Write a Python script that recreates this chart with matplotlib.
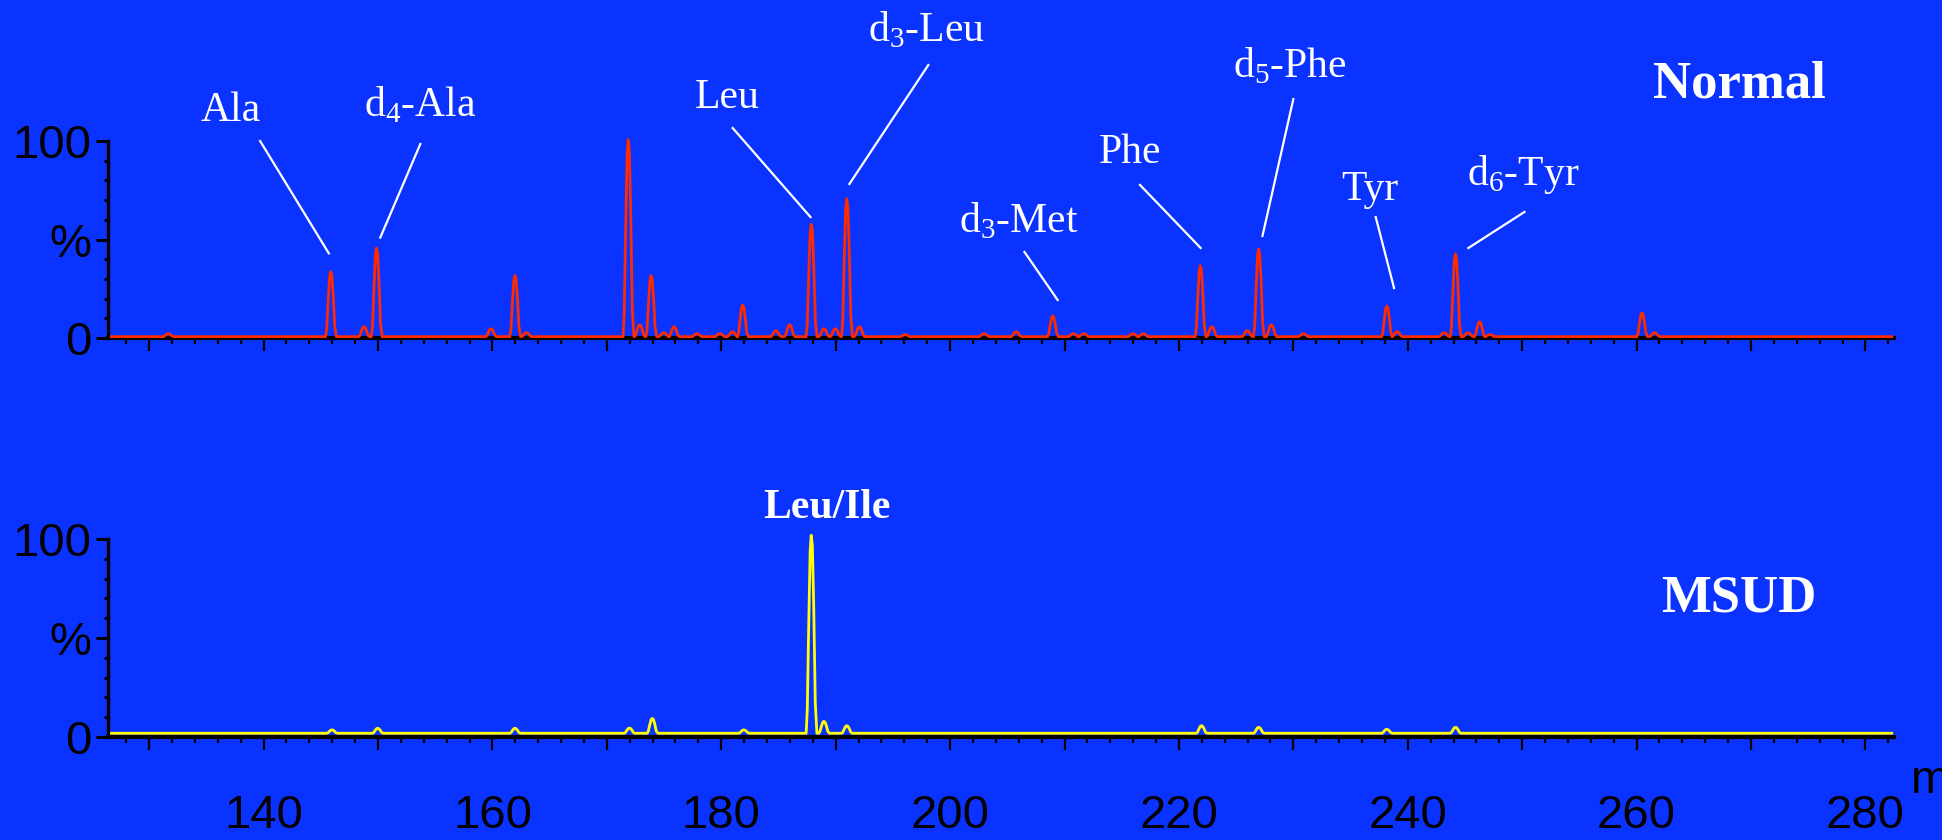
import matplotlib
matplotlib.use("Agg")
import matplotlib.pyplot as plt
from matplotlib.ticker import MultipleLocator, FuncFormatter
import numpy as np

plt.rcParams['mathtext.fontset'] = 'custom'
plt.rcParams['mathtext.rm'] = 'Liberation Serif'

BG = '#0b33ff'

# peaks: m/z and height in %
normal_mz = [131.7, 145.9, 148.8, 149.9, 159.9, 162.0, 163.0, 171.9, 172.9, 173.9,
             175.0, 175.9, 177.9, 179.9, 181.0, 181.9, 184.8, 186.0, 187.9, 189.0,
             190.0, 191.0, 192.1, 196.1, 203.0, 205.8, 209.0, 210.8, 211.7, 216.0,
             216.9, 221.9, 222.9, 226.0, 227.0, 228.1, 230.9, 238.2, 239.1, 243.2,
             244.2, 245.3, 246.3, 247.2, 260.5, 261.6]
normal_int = [1.5, 33, 5, 45, 4, 31, 2, 100, 6, 31,
              2, 5, 1.5, 1.5, 2.5, 16, 3, 6, 57, 4,
              4, 70, 5, 1, 1.5, 2.5, 10.5, 1.5, 1.5, 1.5,
              1.5, 36, 5, 3, 44.5, 6, 1.5, 15.5, 2.5, 2,
              42, 2, 7.5, 1, 12, 2]

msud_mz = [146.0, 150.0, 162.0, 172.0, 174.0, 182.0, 187.9, 189.0, 191.0,
           222.0, 227.0, 238.2, 244.2]
msud_int = [1.7, 2.5, 2.5, 2.6, 7.5, 1.7, 100, 6, 3.8,
            3.8, 3.0, 2.0, 3.0]

normal_base = 0.7
msud_base = 1.9

# peak outline (relative offsets / fraction of height)
shape_dx = np.array([-0.48, -0.38, -0.27, -0.13, -0.04, 0.06, 0.18, 0.32, 0.46])
shape_fr = np.array([0, 0.12, 0.5, 0.92, 1.0, 0.95, 0.65, 0.15, 0])


def trace(mz, inten, base, start=126.7, end=282.3):
    xs = [start]
    ys = [base]
    for c, h in zip(mz, inten):
        xs.extend(c + shape_dx)
        ys.extend(base + h * shape_fr)
    xs.append(end)
    ys.append(base)
    return np.array(xs), np.array(ys)


# labels on the normal trace: text, text pos (m/z, %), leader line start, end
labels = [
    ("Ala", 137.1, 110.0, (139.7, 100.0), (145.7, 43.0)),
    ("d$_4$-Ala", 153.7, 112.7, (153.7, 98.5), (150.2, 51.0)),
    ("Leu", 180.5, 116.8, (181.0, 106.6), (187.8, 61.4)),
    ("d$_3$-Leu", 197.9, 150.8, (198.1, 138.6), (191.2, 78.2)),
    ("d$_3$-Met", 206.0, 53.8, (206.5, 43.7), (209.4, 19.3)),
    ("Phe", 215.7, 88.8, (216.6, 77.7), (221.9, 45.7)),
    ("d$_5$-Phe", 229.7, 132.5, (230.0, 121.3), (227.3, 51.8)),
    ("Tyr", 236.7, 70.0, (237.2, 61.4), (238.8, 25.4)),
    ("d$_6$-Tyr", 250.1, 77.7, (250.2, 64.0), (245.3, 45.7)),
]

fig = plt.figure(figsize=(19.42, 8.40), dpi=100, facecolor=BG)
ax1 = fig.add_axes([0.0556, 0.5976, 0.9197, 0.2345])
ax2 = fig.add_axes([0.0556, 0.1226, 0.9197, 0.2357])


def style_axes(ax, show_labels):
    ax.set_facecolor(BG)
    ax.set_xlim(126.4, 282.5)
    ax.set_ylim(0, 100)
    for s in ['top', 'right']:
        ax.spines[s].set_visible(False)
    ax.spines['left'].set_linewidth(2.4)
    ax.spines['bottom'].set_linewidth(3.0)
    ax.spines['left'].set_color('black')
    ax.spines['bottom'].set_color('black')
    ax.yaxis.set_major_locator(MultipleLocator(50))
    ax.yaxis.set_minor_locator(MultipleLocator(10))
    ax.yaxis.set_major_formatter(FuncFormatter(
        lambda v, p: {0: '0', 50: '%', 100: '100'}.get(int(round(v)), '')))
    ax.xaxis.set_major_locator(MultipleLocator(10))
    ax.xaxis.set_minor_locator(MultipleLocator(2))
    if show_labels:
        ax.xaxis.set_major_formatter(FuncFormatter(
            lambda v, p: '%d' % v if int(round(v)) % 20 == 0 else ''))
    else:
        ax.xaxis.set_major_formatter(FuncFormatter(lambda v, p: ''))
    ax.tick_params(axis='y', which='major', length=9, width=2.2, pad=3,
                   labelsize=34, colors='black')
    ax.tick_params(axis='y', which='minor', length=3, width=2.0)
    ax.tick_params(axis='x', which='major', length=9, width=1.6, pad=32,
                   labelsize=34, colors='black')
    ax.tick_params(axis='x', which='minor', length=4.5, width=1.6)
    for t in ax.get_xticklabels() + ax.get_yticklabels():
        t.set_fontfamily('Liberation Sans')


style_axes(ax1, False)
style_axes(ax2, True)

x1, y1 = trace(normal_mz, normal_int, normal_base)
ax1.plot(x1, y1, color='#ff2a00', lw=2.0, clip_on=False, zorder=3)
x2, y2 = trace(msud_mz, msud_int, msud_base)
ax2.plot(x2, y2, color='#ffff00', lw=2.0, clip_on=False, zorder=3)

for txt, tx, ty, p0, p1 in labels:
    ax1.text(tx, ty, txt, ha='center', va='baseline', color='white',
             fontsize=30, family='Liberation Serif', clip_on=False)
    ax1.plot([p0[0], p1[0]], [p0[1], p1[1]], color='white', lw=1.6,
             clip_on=False)

ax1.text(269.0, 122.3, "Normal", ha='center', va='baseline', color='white',
         fontsize=38, fontweight='bold', family='Liberation Serif')
ax2.text(268.9, 63.6, "MSUD", ha='center', va='baseline', color='white',
         fontsize=38, fontweight='bold', family='Liberation Serif')
ax2.text(189.2, 110.6, "Leu/Ile", ha='center', va='baseline', color='white',
         fontsize=30, fontweight='bold', family='Liberation Serif')

# axis title, cut by the right edge as in the original
fig.text(0.984, 0.056, "m/z", ha='left', va='baseline', color='black',
         fontsize=34, family='Liberation Sans')

fig.savefig("out.png", dpi=100, facecolor=BG)
